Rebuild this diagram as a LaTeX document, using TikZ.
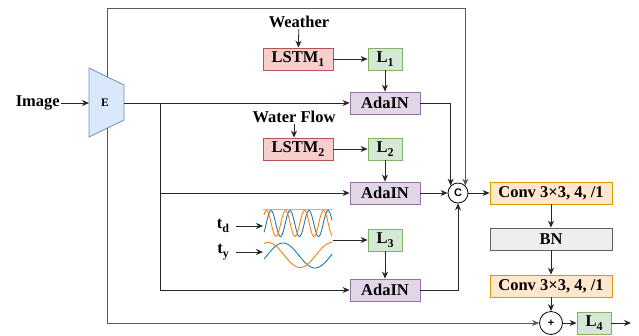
\documentclass[tikz,border=0pt]{standalone}
\usepackage{fontspec}
\setmainfont{Liberation Serif}
\newfontfamily\sansf{Liberation Sans}
\usetikzlibrary{arrows.meta}
\definecolor{lstmF}{HTML}{F8CECC}\definecolor{lstmD}{HTML}{B85450}
\definecolor{lF}{HTML}{D5E8D4}\definecolor{lD}{HTML}{82B366}
\definecolor{adaF}{HTML}{E1D5E7}\definecolor{adaD}{HTML}{9673A6}
\definecolor{convF}{HTML}{FFE6CC}\definecolor{convD}{HTML}{D79B00}
\definecolor{bnF}{HTML}{EEEEEE}\definecolor{bnD}{HTML}{36393D}
\definecolor{eF}{HTML}{DAE8FC}\definecolor{eD}{HTML}{6C8EBF}
\definecolor{wblue}{HTML}{1F77B4}\definecolor{worange}{HTML}{FF7F0E}
\newcommand{\mysub}[1]{\raisebox{-0.28em}{\fontsize{12}{12}\selectfont #1}}
\tikzset{
  lbl/.style={font=\fontsize{16.5}{19}\selectfont\bfseries, inner sep=1pt},
  box/.style={lbl, draw, line width=0.8pt, minimum height=22pt, inner sep=0pt, anchor=center},
  lstm/.style={box, fill=lstmF, draw=lstmD, minimum width=70pt},
  lbox/.style={box, fill=lF, draw=lD, minimum width=34pt},
  ada/.style={box, fill=adaF, draw=adaD, minimum width=70pt},
  conv/.style={box, fill=convF, draw=convD, minimum width=122pt},
  bn/.style={box, fill=bnF, draw=bnD!80, minimum width=122pt},
  op/.style={circle, draw, line width=0.8pt, fill=white, minimum size=20pt, inner sep=0pt, font=\sansf\bfseries\fontsize{11}{11}\selectfont},
  conn/.style={line width=0.8pt, draw=black!85, -{Stealth[length=7pt,width=6pt]}},
}
\begin{document}
\begin{tikzpicture}[x=1pt,y=-1pt]
\useasboundingbox (0,0) rectangle (639,335);
% encoder
\draw[fill=eF, draw=eD, line width=0.8pt] (89,68) -- (124,85) -- (124,120) -- (89,137) -- cycle;
\node[lbl, font=\fontsize{11.5}{11}\selectfont\bfseries] (E) at (105,103) {E};
\coordinate (Ein) at (89,103);
\coordinate (Eout) at (124,103);
\coordinate (Etop) at (107,76.7);
\coordinate (Ebot) at (107,128.3);
\node[lbl, anchor=east] (img) at (61,103) {Image};
% nodes
\node[lbl] (weather) at (299,22) {Weather};
\node[lstm] (lstm1) at (298,59) {LSTM\mysub{1}};
\node[lbox] (l1) at (385,59) {L\mysub{1}};
\node[ada] (a1) at (385,103) {AdaIN};
\node[lbl] (wf) at (294,117) {Water Flow};
\node[lstm] (lstm2) at (298,149) {LSTM\mysub{2}};
\node[lbox] (l2) at (385,149) {L\mysub{2}};
\node[ada] (a2) at (385,193) {AdaIN};
\node[lbl] (td) at (223,226) {t\mysub{d}};
\node[lbl] (ty) at (223,252) {t\mysub{y}};
\node[lbox] (l3) at (385,240) {L\mysub{3}};
\node[ada] (a3) at (385,290) {AdaIN};
\node[op] (C) at (458,193) {C};
\node[conv] (c1) at (551,193) {Conv 3×3, 4, /1};
\node[bn] (bn) at (551,239) {BN};
\node[conv] (c2) at (551,286) {Conv 3×3, 4, /1};
\node[op, minimum size=23pt] (plus) at (551,323) {+};
\node[lbox] (l4) at (594,323) {L\mysub{4}};
\coordinate (out) at (631,323);
% waves
\coordinate (w1) at (263,224);
\coordinate (w2) at (263,253);
\coordinate (wout) at (333,240);
\draw[black!30, line width=0.8pt] (263,209) -- (333,209);
\draw[wblue, line width=0.9pt] plot[domain=264:332, samples=120] (\x, {223.5 - 13*sin((\x-271)/19*360 + 90)});
\draw[worange, line width=0.9pt] plot[domain=264:332, samples=120] (\x, {223.5 - 13*sin((\x-266.5)/19*360 + 90)});
\draw[wblue, line width=0.9pt] plot[domain=264:332, samples=80] (\x, {255.5 - 12.5*cos((\x-283)/64*360)});
\draw[worange, line width=0.9pt] plot[domain=264:332, samples=80] (\x, {255 - 12.5*cos((\x-268)/64*360)});
% connectors
\draw[conn] (img) -- (Ein);
\draw[conn, draw=black!65] (Etop) -- (107,8) -| (C.north east);
\draw[conn, draw=black!65] (Ebot) -- (107,323) -- (plus.west);
\coordinate (J) at (160,103);
\draw[conn] (Eout) -- (a1.west);
\draw[conn] (J) |- (a2.west);
\draw[conn] (J) |- (a3.west);
\draw[conn] (weather) -- (lstm1);
\draw[conn] (wf.south) -- (wf.south |- lstm2.north);
\draw[conn] (lstm1) -- (l1);
\draw[conn] (l1) -- (a1);
\draw[conn] (lstm2) -- (l2);
\draw[conn] (l2) -- (a2);
\draw[conn] (td.east) ++(6,0) coordinate (tds) -- (tds -| w1);
\draw[conn] (ty.east) ++(6,0) coordinate (tys) -- (tys -| w2);
\draw[conn] (wout) -- (l3);
\draw[conn] (l3) -- (a3);
\draw[conn] (a1.east) -| (C.north west);
\draw[conn] (a2) -- (C);
\draw[conn] (a3.east) -| (C.south);
\draw[conn] (C) -- (c1);
\draw[conn] (c1) -- (bn);
\draw[conn] (bn) -- (c2);
\draw[conn] (c2) -- (plus);
\draw[conn] (plus) -- (l4);
\draw[conn] (l4) -- (out);
\end{tikzpicture}
\end{document}
